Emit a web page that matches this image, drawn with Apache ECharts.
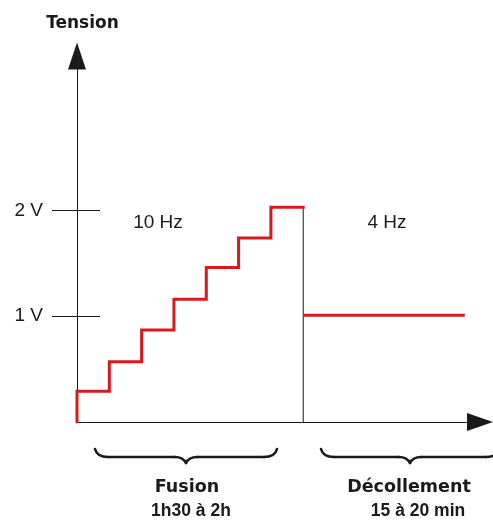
<!DOCTYPE html>
<html>
<head>
<meta charset="utf-8">
<script src="https://cdn.jsdelivr.net/npm/echarts@6/dist/echarts.min.js"></script>
<style>
  html, body { margin: 0; padding: 0; background: #ffffff; }
  #chart { width: 493px; height: 525px; }
</style>
</head>
<body>
<div id="chart"></div>
<script>
// Fusion phase: voltage raised step by step (time in steps, tension in volts)
const rampTimes = [0, 0, 1, 2, 3, 4, 5, 6, 7];
const rampVolts = [0, 0.29, 0.57, 0.87, 1.16, 1.46, 1.74, 2.03, 2.03];
// Décollement phase: constant voltage
const holdTimes = [7, 12];
const holdVolts = [1.01, 1.01];
// Separation between the two phases
const boundaryTimes = [7, 7];
const boundaryVolts = [0, 2.03];
// Tension axis ticks
const yTickValues = [1, 2];
const yTickLabels = ['1 V', '2 V'];
// Phase annotations
const phaseFreqs = ['10 Hz', '4 Hz'];
const phaseNames = ['Fusion', 'Décollement'];
const phaseDurations = ['1h30 à 2h', '15 à 20 min'];

const zip = (xs, ys) => xs.map((x, i) => [x, ys[i]]);

const RED = '#d8191e';
const INK = '#1a1a1a';
const SANS = '"Liberation Sans", Arial, sans-serif';
const WIDE = '"DejaVu Sans", Verdana, sans-serif';

// Curly brace opening upwards, built from curve and line pieces
function brace(x0, xc, x1, yEnd, yLine, yTip) {
  const st = { stroke: INK, fill: null, lineWidth: 2.6, lineCap: 'round' };
  const curve = (ax, ay, cx, cy, bx, by) => ({
    type: 'bezierCurve',
    shape: { x1: ax, y1: ay, cpx1: cx, cpy1: cy, x2: bx, y2: by },
    style: st
  });
  const seg = (ax, ay, bx, by) => ({
    type: 'line',
    shape: { x1: ax, y1: ay, x2: bx, y2: by },
    style: st
  });
  return {
    type: 'group',
    children: [
      curve(x0, yEnd, x0 + 2, yLine, x0 + 13, yLine),
      seg(x0 + 13, yLine, xc - 11, yLine),
      curve(xc - 11, yLine, xc - 3, yLine, xc, yTip),
      curve(xc, yTip, xc + 3, yLine, xc + 11, yLine),
      seg(xc + 11, yLine, x1 - 13, yLine),
      curve(x1 - 13, yLine, x1 - 2, yLine, x1, yEnd)
    ]
  };
}

function label(text, x, y, font) {
  return {
    type: 'text', x: x, y: y,
    style: { text: text, fill: INK, font: font, align: 'center', verticalAlign: 'middle' }
  };
}

const chart = echarts.init(document.getElementById('chart'), null, { renderer: 'canvas' });

const yBase = {
  type: 'value',
  min: 0,
  max: 3.46,
  position: 'left',
  splitLine: { show: false }
};

chart.setOption({
  animation: false,
  backgroundColor: '#ffffff',
  grid: { left: 77, right: 13, top: 56, bottom: 103, containLabel: false },
  xAxis: {
    type: 'value',
    min: 0,
    max: 12.47,
    axisLine: {
      show: true,
      onZero: false,
      symbol: ['none', 'triangle'],
      symbolSize: [18, 26],
      lineStyle: { color: INK, width: 1 }
    },
    axisTick: { show: false },
    axisLabel: { show: false },
    splitLine: { show: false }
  },
  yAxis: [
    Object.assign({}, yBase, {
      name: 'Tension',
      nameLocation: 'end',
      nameGap: 24,
      nameTextStyle: {
        color: INK, fontFamily: WIDE, fontWeight: 'bold', fontSize: 17,
        padding: [0, 0, 0, 11]
      },
      axisLine: {
        show: true,
        onZero: false,
        symbol: ['none', 'triangle'],
        symbolSize: [18, 27],
        lineStyle: { color: INK, width: 1 }
      },
      axisTick: {
        show: true, length: 25, customValues: yTickValues,
        lineStyle: { color: INK, width: 1 }
      },
      axisLabel: {
        show: true, margin: 34, customValues: yTickValues,
        color: INK, fontFamily: SANS, fontSize: 19,
        formatter: (v) => yTickLabels[yTickValues.indexOf(v)] || ''
      }
    }),
    // same scale, ticks running inside the plot
    Object.assign({}, yBase, {
      axisLine: { show: false },
      axisTick: {
        show: true, inside: true, length: 23, customValues: yTickValues,
        lineStyle: { color: INK, width: 1 }
      },
      axisLabel: { show: false }
    })
  ],
  series: [
    {
      type: 'line',
      step: 'end',
      symbol: 'none',
      data: zip(rampTimes, rampVolts),
      lineStyle: { color: RED, width: 3, join: 'miter', cap: 'square' },
      z: 3
    },
    {
      type: 'line',
      symbol: 'none',
      data: zip(boundaryTimes, boundaryVolts),
      lineStyle: { color: INK, width: 1 },
      z: 2
    },
    {
      type: 'line',
      symbol: 'none',
      data: zip(holdTimes, holdVolts),
      lineStyle: { color: RED, width: 3 },
      z: 3
    }
  ],
  graphic: [
    brace(95, 186, 277, 449, 457, 463),
    brace(321, 410, 499, 449, 457, 463),
    label(phaseFreqs[0], 158, 223, '19px ' + SANS),
    label(phaseFreqs[1], 387, 223, '19px ' + SANS),
    label(phaseNames[0], 187, 487, 'bold 17.5px ' + WIDE),
    label(phaseNames[1], 409, 487, 'bold 17.5px ' + WIDE),
    label(phaseDurations[0], 191, 511, 'bold 17.5px ' + SANS),
    label(phaseDurations[1], 418, 511, 'bold 17.5px ' + SANS)
  ]
});
</script>
</body>
</html>
